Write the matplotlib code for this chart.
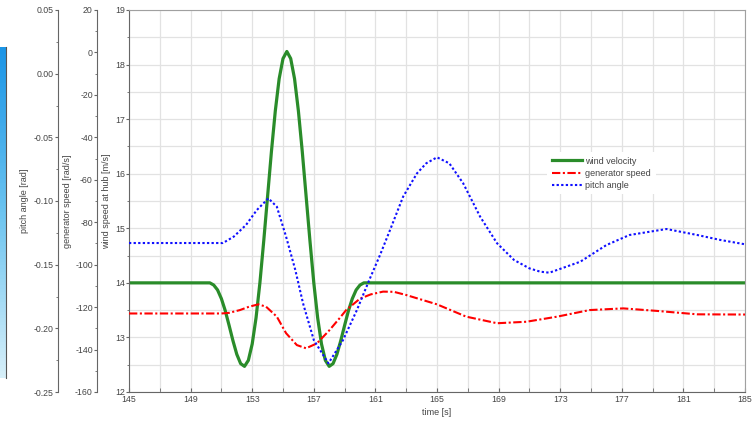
import numpy as np
import matplotlib
matplotlib.use("Agg")
import matplotlib.pyplot as plt
from matplotlib.colors import LinearSegmentedColormap
from matplotlib.ticker import MultipleLocator, FixedLocator, FormatStrFormatter

plt.rcParams['font.family'] = ['Liberation Sans', 'DejaVu Sans']
plt.rcParams['axes.unicode_minus'] = False

# wind velocity at hub [m/s] (gust)
t_wind = [145, 150.0, 150.25, 150.5, 150.75, 151.0, 151.25, 151.5, 151.75, 152.0, 152.25,
          152.5, 152.75, 153.0, 153.25, 153.5, 153.75, 154.0, 154.25, 154.5, 154.75,
          155.0, 155.25, 155.5, 155.75, 156.0, 156.25, 156.5, 156.75, 157.0, 157.25,
          157.5, 157.75, 158.0, 158.25, 158.5, 158.75, 159.0, 159.25, 159.5, 159.75,
          160.0, 160.25, 160.5, 185]
v_wind = [14.0, 14.0, 14.0, 13.96, 13.87, 13.71, 13.49, 13.22, 12.94, 12.69, 12.52,
          12.47, 12.58, 12.88, 13.36, 14.0, 14.77, 15.59, 16.41, 17.15, 17.74,
          18.11, 18.24, 18.11, 17.74, 17.15, 16.41, 15.59, 14.77, 14.0, 13.36,
          12.88, 12.58, 12.47, 12.52, 12.69, 12.94, 13.22, 13.49, 13.71, 13.87,
          13.96, 14.0, 14.0, 14.0]

# generator speed [rad/s]
t_gen = [145, 151.0, 151.5, 152.2, 152.8, 153.4, 153.9, 154.6, 155.2, 155.9, 156.5,
         157.2, 158.0, 158.7, 159.1, 160.0, 160.7, 161.5, 162.2, 163.0, 165.0,
         166.9, 168.9, 170.8, 172.8, 174.9, 177.1, 179.3, 181.9, 185]
gen_speed = [-123.0, -123.0, -122.7, -121.4, -119.8, -118.7, -119.8, -124.5, -132.3, -137.9, -139.4,
             -137.1, -131.0, -125.0, -121.4, -116.0, -114.0, -112.7, -112.8, -114.3, -118.7,
             -124.5, -127.6, -126.9, -124.5, -121.4, -120.6, -121.8, -123.4, -123.5]

# pitch angle [rad]
t_pitch = [145, 151.1, 151.8, 152.6, 153.3, 154.05, 154.6, 155.2, 155.8, 156.3, 157.0,
           157.95, 158.9, 159.8, 160.6, 161.3, 161.95, 162.8, 163.7, 164.3, 165.0,
           165.8, 166.7, 167.8, 168.9, 170.0, 171.0, 171.7, 172.3, 174.3, 176.0,
           177.5, 179.9, 181.9, 183.4, 185]
pitch = [-0.1330, -0.1330, -0.1280, -0.1188, -0.1071, -0.0979, -0.1045, -0.1280, -0.1542, -0.1803, -0.2092,
         -0.2275, -0.2092, -0.1856, -0.1621, -0.1424, -0.1228, -0.0966, -0.0783, -0.0704, -0.0657,
         -0.0704, -0.0861, -0.1123, -0.1332, -0.1463, -0.1529, -0.1555, -0.1563, -0.1477, -0.1346,
         -0.1267, -0.1220, -0.1267, -0.1306, -0.1340]

x_labels = [145, 149, 153, 157, 161, 165, 169, 173, 177, 181, 185]
x_grid = [145, 147, 149, 151, 153, 155, 157, 159, 161, 163, 165, 167, 169, 171, 173, 175,
          177, 179, 181, 183, 185]

txt = '#444444'
spc = '#666666'
fs = 6.3

fig = plt.figure(figsize=(7.55, 4.24), dpi=100)
ax = fig.add_axes([129/755, 1-392/424, 616/755, 382/424])

# blue fragment on the far left
strip = fig.add_axes([0, 1-378/424, 5.5/755, 331/424])
cmap = LinearSegmentedColormap.from_list('b', ['#1b95e6', '#6cc4f0', '#d6eff9'])
strip.imshow(np.linspace(0, 1, 100).reshape(-1, 1), aspect='auto', cmap=cmap)
strip.set_xticks([])
strip.set_yticks([])
for s in strip.spines.values():
    s.set_visible(False)
strip.spines['right'].set_visible(True)
strip.spines['right'].set_color('#555555')

ax.plot(t_wind, v_wind, color='#2a8c2a', lw=2.3, label='wind velocity')
ax.set_xlim(145, 185)
ax.set_ylim(12, 19)
ax.xaxis.set_major_locator(FixedLocator(x_labels))
ax.xaxis.set_minor_locator(FixedLocator(x_grid))
ax.yaxis.set_major_locator(MultipleLocator(1))
ax.yaxis.set_minor_locator(MultipleLocator(0.5))
ax.grid(True, which='both', color='#e2e2e2', lw=0.9)
ax.set_axisbelow(True)
ax.tick_params(axis='x', which='both', direction='in', length=3, color=spc,
               labelsize=fs, labelcolor=txt, pad=2.5)
ax.tick_params(axis='y', which='both', direction='out', length=2.5, color=spc,
               labelsize=fs, labelcolor=txt, pad=0.5)
ax.tick_params(axis='y', which='minor', length=1.5)
for k in ['top', 'right']:
    ax.spines[k].set_color('#a0a0a0')
for k in ['left', 'bottom']:
    ax.spines[k].set_color(spc)
ax.set_xlabel('time [s]', fontsize=6.5, color=txt)
ax.xaxis.set_label_coords(0.5, -0.042)
ax.set_ylabel('wind speed at hub [m/s]', fontsize=6.5, color=txt)
ax.yaxis.set_label_coords(-0.029, 0.5)

def left_axis(pos):
    a = ax.twinx()
    a.yaxis.set_ticks_position('left')
    a.yaxis.set_label_position('left')
    a.spines['left'].set_position(('axes', pos))
    a.spines['left'].set_visible(True)
    a.spines['left'].set_color(spc)
    for k in ['right', 'top', 'bottom']:
        a.spines[k].set_visible(False)
    a.tick_params(axis='y', which='both', direction='out', length=2.5, color=spc,
                  labelsize=fs, labelcolor=txt, pad=0.5)
    a.tick_params(axis='y', which='minor', length=1.5)
    return a

ax2 = left_axis(-32/616)
ax2.plot(t_gen, gen_speed, color='#ff0000', lw=1.5, ls=(0, (4, 1.2, 1, 1.2)), label='generator speed')
ax2.set_ylim(-160, 20)
ax2.yaxis.set_major_locator(MultipleLocator(20))
ax2.yaxis.set_minor_locator(MultipleLocator(10))
ax2.set_ylabel('generator speed [rad/s]', fontsize=6.5, color=txt)
ax2.yaxis.set_label_coords(-57/616, 0.5)

ax3 = left_axis(-71/616)
ax3.plot(t_pitch, pitch, color='#1010ff', lw=1.5, ls=(0, (1.1, 1.1)), label='pitch angle')
ax3.set_ylim(-0.25, 0.05)
ax3.yaxis.set_major_locator(MultipleLocator(0.05))
ax3.yaxis.set_minor_locator(MultipleLocator(0.025))
ax3.yaxis.set_major_formatter(FormatStrFormatter('%.2f'))
ax3.set_ylabel('pitch angle [rad]', fontsize=6.5, color=txt)
ax3.yaxis.set_label_coords(-100/616, 0.5)

handles = []
labels = []
for a in [ax, ax2, ax3]:
    h, l = a.get_legend_handles_labels()
    handles += h
    labels += l
leg = ax3.legend(handles, labels, loc='upper left', bbox_to_anchor=(0.672, 0.64),
                 fontsize=6.5, frameon=True, fancybox=False, framealpha=1,
                 edgecolor='none', handlelength=3.3, handletextpad=0.4,
                 labelspacing=0.35, borderpad=0.5)
for t in leg.get_texts():
    t.set_color(txt)

fig.savefig('out.png', dpi=100)
